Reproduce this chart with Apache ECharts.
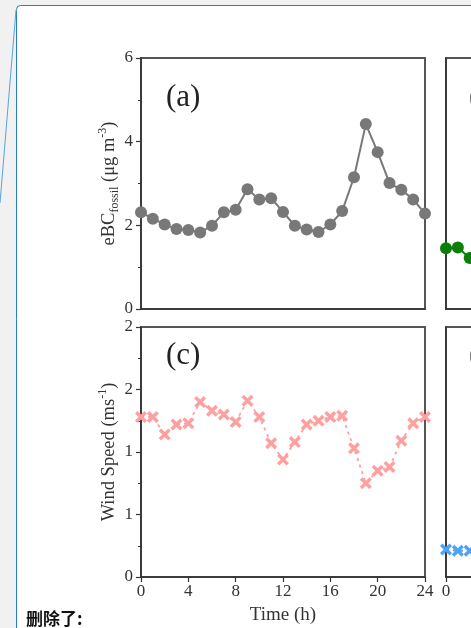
<!DOCTYPE html>
<html>
<head>
<meta charset="utf-8">
<script src="https://cdn.jsdelivr.net/npm/echarts@6/dist/echarts.min.js"></script>
<style>
    html, body {
        margin: 0;
        padding: 0;
        background: #f1f1f1;
    }
    #chart {
        width: 471px;
        height: 628px;
    }
</style>
</head>
<body>
<div id="chart"></div>
<script>
// hour of day, shared by all panels
const hours = [0, 1, 2, 3, 4, 5, 6, 7, 8, 9, 10, 11, 12, 13, 14, 15, 16, 17, 18, 19, 20, 21, 22, 23, 24]
// (a) eBC fossil, ug m-3
const ebcFossil = [2.31, 2.16, 2.02, 1.91, 1.89, 1.83, 1.99, 2.31, 2.37, 2.86, 2.62, 2.65, 2.32,
    1.99, 1.90, 1.84, 2.02, 2.34, 3.15, 4.42, 3.75, 3.01, 2.85, 2.62, 2.28]
// (b) only the first points are visible
const panelB = [1.45, 1.47, 1.22]
// (c) wind speed, m s-1
const windSpeed = [1.28, 1.28, 1.14, 1.22, 1.23, 1.40, 1.33, 1.30, 1.24, 1.41, 1.28, 1.07, 0.94,
    1.08, 1.22, 1.25, 1.28, 1.29, 1.03, 0.75, 0.85, 0.88, 1.09, 1.23, 1.28]
// (d) only the first points are visible
const panelD = [0.22, 0.21, 0.21]

const xTicks = ['0', '4', '8', '12', '16', '20', '24']
const yTicksA = ['0', '2', '4', '6']
const yTicksC = ['0', '1', '1', '2', '2']

const serif = '"Liberation Serif", "Times New Roman", serif'
const crossPath = 'path://M0,2 L2,0 L5,3 L8,0 L10,2 L7,5 L10,8 L8,10 L5,7 L2,10 L0,8 L3,5 Z'

const pairs = (vals) => vals.map((v, i) => [hours[i], v])

function xAxis(grid, showLabels) {
    return {
        type: 'value',
        gridIndex: grid,
        min: 0,
        max: 24,
        interval: 4,
        axisLine: {lineStyle: {color: '#333', width: 1.5}},
        axisTick: {show: showLabels, length: 5, lineStyle: {color: '#333', width: 1.2}},
        axisLabel: {
            show: showLabels,
            margin: 6,
            fontFamily: serif,
            fontSize: 17,
            color: '#333',
            formatter: (v) => xTicks[v / 4],
        },
        splitLine: {show: false},
    }
}

function yAxis(grid, max, interval, labels, name) {
    return {
        type: 'value',
        gridIndex: grid,
        min: 0,
        max: max,
        interval: interval,
        axisLine: {lineStyle: {color: '#333', width: 1.5}},
        axisTick: {show: !!labels, length: 5, lineStyle: {color: '#333', width: 1.2}},
        minorTick: {show: !!labels, splitNumber: 2, length: 3, lineStyle: {color: '#333', width: 1}},
        axisLabel: {
            show: !!labels,
            margin: 8,
            fontFamily: serif,
            fontSize: 17,
            color: '#333',
            formatter: (v) => labels ? labels[Math.round(v / interval)] : '',
        },
        splitLine: {show: false},
        name: name || '',
        nameLocation: 'middle',
        nameGap: 20,
        nameMoveOverlap: false,
        nameTextStyle: {
            fontFamily: serif,
            fontSize: 18,
            color: '#333',
            rich: {
                t: {fontFamily: serif, fontSize: 18.5, color: '#333', lineHeight: 24, verticalAlign: 'middle'},
                s: {fontFamily: serif, fontSize: 12, color: '#333', lineHeight: 12, verticalAlign: 'bottom'},
                p: {fontFamily: serif, fontSize: 12, color: '#333', lineHeight: 12, verticalAlign: 'top'},
            },
        },
    }
}

const gridBox = {show: true, outerBoundsMode: 'none', backgroundColor: '#fff', borderColor: '#555', borderWidth: 2}

function panelLabel(text, x, y) {
    return {
        type: 'text',
        x: x,
        y: y,
        z: 10,
        style: {text: text, fontFamily: serif, fontSize: 31, fill: '#222'},
    }
}

const chart = echarts.init(document.getElementById('chart'))
chart.setOption({
    backgroundColor: '#f1f1f1',
    animation: false,
    grid: [
        {left: 141, top: 58, width: 284, height: 251, ...gridBox},
        {left: 446, top: 58, width: 284, height: 251, ...gridBox},
        {left: 141, top: 327, width: 284, height: 250, ...gridBox},
        {left: 446, top: 327, width: 284, height: 250, ...gridBox},
    ],
    xAxis: [
        xAxis(0, false),
        xAxis(1, false),
        {
            ...xAxis(2, true),
            name: 'Time (h)',
            nameLocation: 'middle',
            nameGap: 29,
            nameTextStyle: {fontFamily: serif, fontSize: 19, color: '#333'},
        },
        xAxis(3, true),
    ],
    yAxis: [
        yAxis(0, 6, 2, yTicksA, '{t|eBC}{s|fossil}{t| (μg m}{p|-3}{t|)}'),
        yAxis(1, 6, 2, null),
        yAxis(2, 2, 0.5, yTicksC, '{t|Wind Speed (ms}{p|-1}{t|)}'),
        yAxis(3, 2, 0.5, null),
    ],
    series: [
        {
            type: 'line',
            xAxisIndex: 0,
            yAxisIndex: 0,
            data: pairs(ebcFossil),
            symbol: 'circle',
            symbolSize: 12,
            itemStyle: {color: '#787878'},
            lineStyle: {color: '#787878', width: 2},
        },
        {
            type: 'line',
            xAxisIndex: 1,
            yAxisIndex: 1,
            data: pairs(panelB),
            symbol: 'circle',
            symbolSize: 12,
            itemStyle: {color: '#0a7f0a'},
            lineStyle: {color: '#0a7f0a', width: 2},
        },
        {
            type: 'line',
            xAxisIndex: 2,
            yAxisIndex: 2,
            data: pairs(windSpeed),
            symbol: crossPath,
            symbolSize: 12,
            itemStyle: {color: '#ffa0a0'},
            lineStyle: {color: '#ffa0a0', width: 1.8, type: [3, 4]},
        },
        {
            type: 'line',
            xAxisIndex: 3,
            yAxisIndex: 3,
            data: pairs(panelD),
            symbol: crossPath,
            symbolSize: 12,
            itemStyle: {color: '#4da3f5'},
            lineStyle: {color: '#4da3f5', width: 1.8, type: [3, 4]},
        },
    ],
    graphic: [
        {
            type: 'rect',
            z: -100,
            shape: {x: 16.5, y: 5.5, width: 600, height: 700, r: 4},
            style: {fill: '#fff', stroke: '#2b7bd0', lineWidth: 1},
        },
        {
            type: 'line',
            z: -99,
            shape: {x1: 16, y1: 10, x2: 0, y2: 203},
            style: {stroke: '#5aa0e6', lineWidth: 1},
        },
        panelLabel('(a)', 166, 82),
        panelLabel('(b)', 469, 82),
        panelLabel('(c)', 166, 340),
        panelLabel('(d)', 469, 340),
        {
            type: 'text',
            x: 26,
            y: 610,
            style: {text: '删除了:', fontFamily: '"Noto Sans CJK SC"', fontWeight: 'bold', fontSize: 17, fill: '#111'},
        },
    ],
})
</script>
</body>
</html>
